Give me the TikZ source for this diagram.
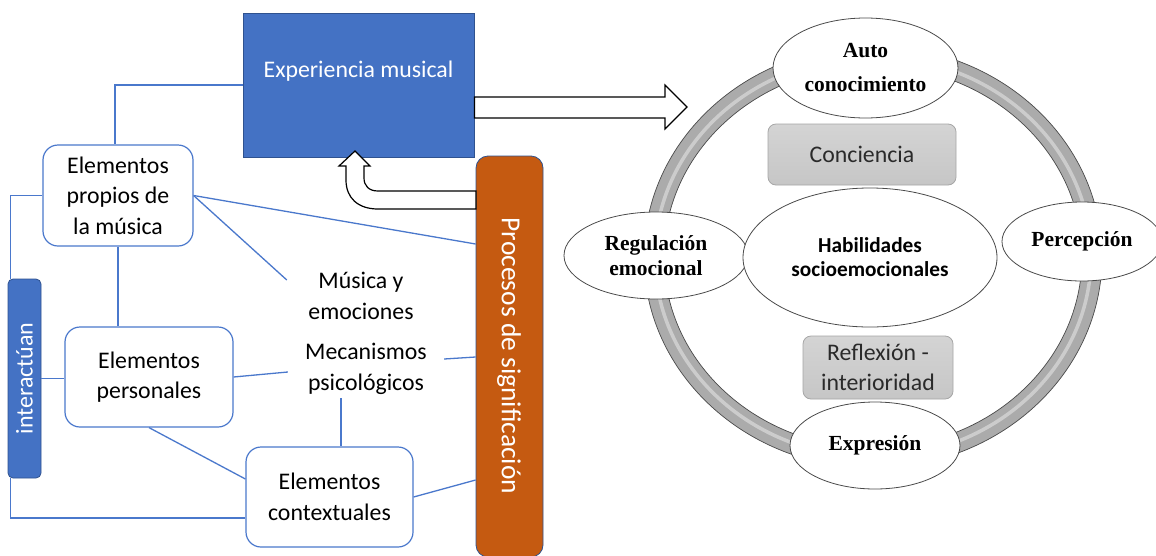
\documentclass[tikz,border=0pt]{standalone}
\usepackage{fontspec}
\setmainfont{Carlito}
\newfontfamily\tnr{Liberation Serif}
\usetikzlibrary{calc,shapes.geometric}
\definecolor{ofblue}{HTML}{4472C4}
\definecolor{ofdark}{HTML}{2F528F}
\definecolor{oforange}{HTML}{C55A11}
\definecolor{lineblue}{HTML}{4A78CC}
\definecolor{ringgray}{HTML}{ABABAB}
\definecolor{ringedge}{HTML}{4A4A4A}
\definecolor{boxgray}{HTML}{C6C6C6}
\definecolor{boxtop}{HTML}{D4D4D4}
\definecolor{boxedge}{HTML}{A6A6A6}
\definecolor{textgray}{HTML}{2A2A2A}
\begin{document}
\begin{tikzpicture}[x=1pt,y=-1pt,
  conn/.style={draw=lineblue, line width=1.3pt},
  wbox/.style={draw=lineblue, line width=1.2pt, fill=white, rounded corners=15pt,
    align=center, inner sep=0pt, font=\fontsize{23.8}{30.5}\selectfont},
  plain/.style={align=center, inner sep=0pt, font=\fontsize{23.8}{30.8}\selectfont},
  bluebox/.style={draw=ofdark, line width=0.8pt, fill=ofblue, inner sep=0pt},
  orbox/.style={draw=ofdark, line width=0.8pt, fill=oforange, rounded corners=12pt, inner sep=0pt},
  oval/.style={ellipse, draw=ringedge, line width=0.8pt, fill=white, inner sep=0pt, align=center,
    font=\tnr\bfseries\fontsize{21.5}{24.5}\selectfont},
  graybox/.style={draw=boxedge, line width=0.8pt, top color=boxtop, bottom color=boxgray,
    rounded corners=8pt, inner sep=0pt, align=center, text=textgray,
    font=\fontsize{23.8}{30}\selectfont},
  hollow/.style={draw=black, line width=1.2pt, fill=white, line join=miter}
]
\useasboundingbox[fill=white] (0,0) rectangle (1156,555);

% ---------------- left part ----------------
\node[bluebox, minimum width=231pt, minimum height=144pt] (exp) at (358.5,85) {};
\node[text=white, inner sep=0pt, font=\fontsize{23.8}{30}\selectfont] (exptxt) at (358.5,71) {Experiencia musical};

\node[orbox, minimum width=67pt, minimum height=401pt] (proc) at (509.5,356.5) {};
\node[text=white, rotate=-90, inner sep=0pt, font=\fontsize{27.5}{32}\selectfont] (proctxt) at (509,356) {Procesos de significación};

\node[bluebox, rounded corners=5pt, minimum width=33pt, minimum height=199pt] (inter) at (24.5,378.5) {};
\node[text=white, rotate=90, inner sep=0pt, font=\fontsize{24}{30}\selectfont] (intertxt) at (inter.center) {interactúan};

\node[wbox, minimum width=150pt, minimum height=101pt] (prop) at (118,195.5) {Elementos\\propios de\\la música};
\node[wbox, minimum width=168pt, minimum height=100pt] (pers) at (149,377) {Elementos\\personales};
\node[wbox, minimum width=167pt, minimum height=100pt] (ctx) at (329.5,497) {Elementos\\contextuales};

\node[plain, minimum width=148pt] (mus) at (361,295.5) {Música y\\emociones};
\node[plain, minimum width=156pt, minimum height=59pt] (mec) at (366,368.5) {Mecanismos\\psicológicos};

% connectors
\draw[conn] (exp.west) -| ($(prop.north)+(-3,0)$);
\draw[conn] (prop.west) -| ($(inter.north west)+(3,0)$);
\draw[conn] ($(inter.south west)+(3,0)$) |- ($(ctx.west)+(0,21)$);
\draw[conn] (prop.south) -- (prop.south |- pers.north);
\draw[conn] (inter.east) -- (inter.east -| pers.west);
\draw[conn] (prop.east) -- ($(proc.west)+(0,-112.5)$);
\draw[conn] (prop.east) -- ($(mus.west)+(0,-15.5)$);
\draw[conn] (pers.east) -- ($(mec.west)+(0,3.5)$);
\draw[conn] ($(mec.east)+(0,-9.5)$) -- ($(proc.west)+(0,0.5)$);
\draw[conn] ($(mec.south)+(-25,0)$) coordinate (m1) -- (m1 |- ctx.north);
\draw[conn] (pers.south) -- ($(ctx.west)+(0,-18)$);
\draw[conn] (ctx.east) -- ($(proc.west)+(0,123.5)$);

% hollow curved arrow from Procesos to Experiencia
\draw[hollow] (476,191) -- (378,191) .. controls (369,191) and (364,186) .. (364,178)
  -- (364,166) -- (370,166) -- (355,151) -- (339,166) -- (346,166) -- (346,180)
  .. controls (346,198) and (358,209) .. (378,209) -- (476,209) -- cycle;

% hollow straight arrow to the right
\coordinate (arrtip) at (687,107);
\draw[hollow] ($(exp.east)+(0,12)$) -- (665,97) -- (665,85) -- (arrtip) -- (665,129)
  -- (665,118) -- ($(exp.east)+(0,33)$) -- cycle;

% ---------------- right part ----------------
\fill[ringgray, even odd rule] (873,257) ellipse [x radius=229, y radius=211]
  (873,257) ellipse [x radius=209, y radius=191];
\draw[white, opacity=0.4, line width=3.5pt] (873,257) ellipse [x radius=218, y radius=200];
\draw[ringedge, line width=0.7pt] (873,257) ellipse [x radius=229, y radius=211];
\draw[ringedge, line width=0.7pt] (873,257) ellipse [x radius=209, y radius=191];

\node[oval, minimum width=185pt, minimum height=100pt,
  font=\tnr\bfseries\fontsize{21.5}{34}\selectfont] (auto) at (865.5,68) {Auto\\conocimiento};
\node[oval, minimum width=184pt, minimum height=87pt] (reg) at (656,255.5) {Regulación\\emocional};
\node[oval, minimum width=160pt, minimum height=79pt] (perc) at (1082,241.5) {Percepción};
\node[oval, minimum width=170pt, minimum height=87pt] (expr) at (875,445.5) {Expresión};
\node[oval, minimum width=254pt, minimum height=139pt,
  font=\bfseries\fontsize{21.3}{24}\selectfont] (hab) at (870,257.5) {Habilidades\\socioemocionales};

\node[graybox, minimum width=188pt, minimum height=61pt] (conc) at (862,154.5) {Conciencia};
\node[graybox, minimum width=150pt, minimum height=63pt] (refl) at (878,367.5) {Reflexión -\\interioridad};
\end{tikzpicture}
\end{document}
